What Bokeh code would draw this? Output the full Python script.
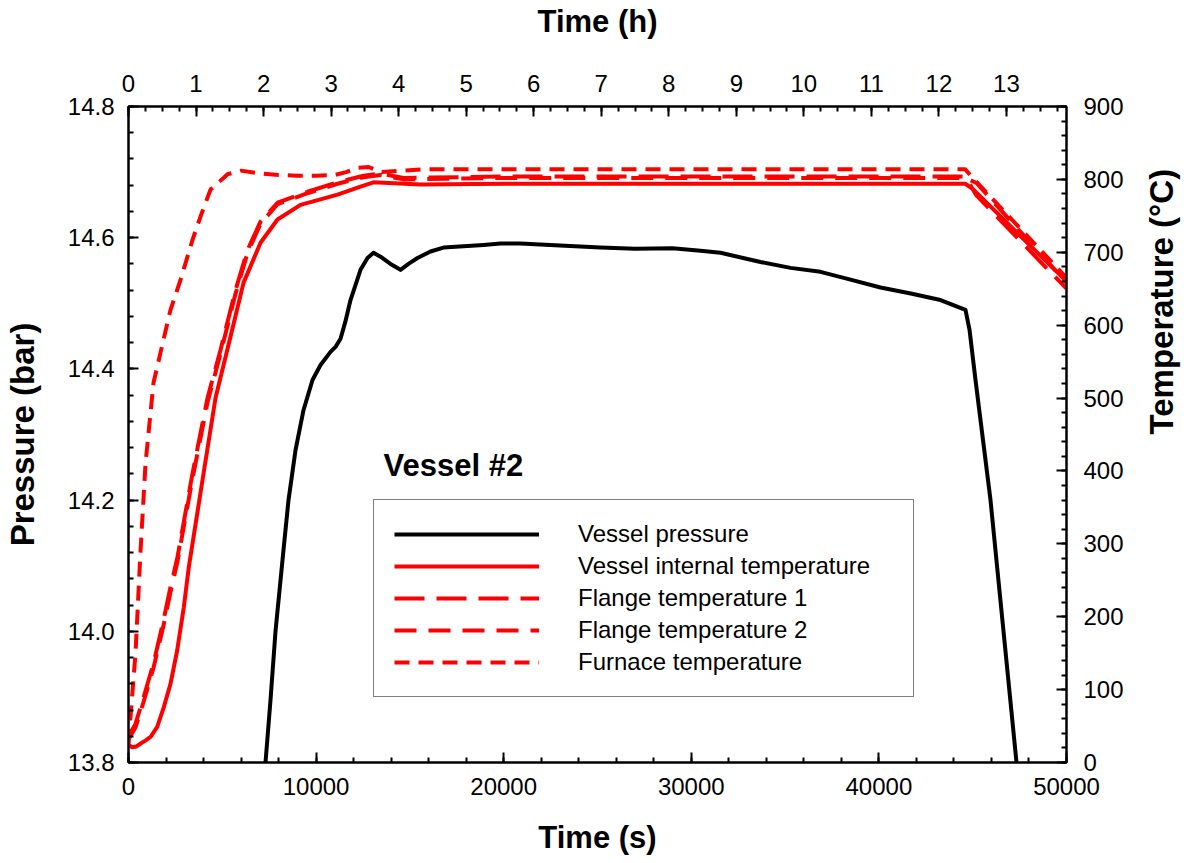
import math
from bokeh.plotting import figure
from bokeh.models import (Range1d, LinearAxis, SingleIntervalTicker, NumeralTickFormatter,
                          Legend, LegendItem, Label)
from bokeh.embed import file_html
from bokeh.resources import INLINE

# ---------------- data ----------------
pressure_t = [7150, 7303, 7569, 7836, 8262, 8529, 8902, 9328, 9808, 10235, 10768, 11050,
              11301, 11560, 11834, 12367, 12740, 13060, 13433, 13966, 14499, 14925, 15405,
              16098, 16791, 18923, 19829, 20896, 23000, 25160, 27000, 29000, 30490, 31557,
              33689, 35288, 36887, 38486, 40085, 41700, 43284, 44616, 44829, 45149, 45949,
              46642, 47335, 47450]
pressure_p = [13.77, 13.800, 13.895, 14.000, 14.124, 14.200, 14.276, 14.337, 14.383, 14.406,
              14.426, 14.434, 14.446, 14.472, 14.505, 14.551, 14.569, 14.577, 14.571, 14.560,
              14.551, 14.560, 14.569, 14.579, 14.585, 14.589, 14.591, 14.591, 14.588, 14.585,
              14.583, 14.584, 14.580, 14.577, 14.563, 14.554, 14.548, 14.536, 14.524, 14.515,
              14.505, 14.490, 14.460, 14.383, 14.200, 14.000, 13.800, 13.78]

internal_t = [0, 197, 420, 640, 900, 1173, 1529, 1882, 2239, 2596, 2948, 3214, 3838, 4638,
              5437, 6130, 7036, 7942, 9168, 11141, 12367, 13060, 15565, 20000, 30000, 40000,
              44600, 45000, 50000]
internal_T = [24, 21, 22, 26, 30, 35, 49, 76, 108, 154, 213, 268, 370, 500, 584, 658, 713,
              745, 765, 779, 790, 796, 793, 794, 794, 794, 794, 787, 660]

flange_t = [0, 373, 800, 1333, 1866, 2239, 2612, 3400, 4211, 4904, 5704, 6343, 7036, 7942,
            9542, 11141, 12527, 13433, 14659, 20000, 30000, 40000, 44600, 45200, 50000]
flange1_T = [36, 53, 89, 136, 195, 241, 282, 395, 500, 566, 648, 703, 742, 768, 783, 796,
             805, 808, 802, 804, 804, 804, 804, 778, 650]
flange2_T = [32, 48, 83, 130, 188, 234, 276, 388, 494, 561, 643, 699, 739, 766, 781, 794,
             803, 806, 800, 802, 802, 802, 802, 795, 658]

furnace_t = [0, 100, 373, 640, 906, 1333, 1866, 2239, 2772, 3412, 3838, 4371, 5064, 5277,
             6000, 7000, 8000, 9000, 10000, 11000, 11600, 12200, 12800, 13500, 14500, 16000,
             25000, 35000, 44600, 44900, 50000]
furnace_T = [25, 60, 150, 290, 410, 521, 580, 621, 662, 717, 749, 786, 802, 807, 812, 808,
             806, 805, 805, 806, 810, 816, 817, 810, 812, 814, 814, 814, 814, 805, 665]

legend_labels = ["Vessel pressure", "Vessel internal temperature", "Flange temperature 1",
                 "Flange temperature 2", "Furnace temperature"]

FONT = "Liberation Sans"
TICK_FS = "24px"

p = figure(frame_width=938, frame_height=656,
           x_range=Range1d(0, 50000), y_range=Range1d(13.8, 14.8),
           output_backend="svg", toolbar_location=None,
           min_border_left=4, min_border_right=4, min_border_top=4, min_border_bottom=4,
           background_fill_color="white", border_fill_color="white")
p.xgrid.visible = False
p.ygrid.visible = False
p.outline_line_color = "black"
p.outline_line_width = 2

p.extra_x_ranges = {"hours": Range1d(0, 50000 / 3600)}
p.extra_y_ranges = {"temp": Range1d(0, 900)}

def style(ax, label, label_fs, tick_standoff, label_standoff):
    ax.axis_label = label
    ax.axis_label_text_font = FONT
    ax.axis_label_text_font_size = label_fs
    ax.axis_label_text_font_style = "bold"
    ax.axis_label_text_color = "black"
    ax.major_label_text_font = FONT
    ax.major_label_text_font_size = TICK_FS
    ax.major_label_text_color = "black"
    ax.axis_line_color = "black"
    ax.axis_line_width = 2
    ax.major_tick_line_width = 2
    ax.minor_tick_line_width = 2
    ax.major_tick_in = 10
    ax.major_tick_out = 0
    ax.minor_tick_in = 5
    ax.minor_tick_out = 0
    ax.major_label_standoff = tick_standoff
    ax.axis_label_standoff = label_standoff

bx = p.xaxis[0]
bx.ticker = SingleIntervalTicker(interval=10000, num_minor_ticks=5)
bx.formatter = NumeralTickFormatter(format="0")
style(bx, "Time (s)", "31px", 15, 22)

ly = p.yaxis[0]
ly.ticker = SingleIntervalTicker(interval=0.2, num_minor_ticks=5)
ly.formatter = NumeralTickFormatter(format="0.0")
style(ly, "Pressure (bar)", "33px", 14, 24)

tx = LinearAxis(x_range_name="hours",
                ticker=SingleIntervalTicker(interval=1, num_minor_ticks=4))
style(tx, "Time (h)", "31px", 15, 33)
p.add_layout(tx, "above")

ry = LinearAxis(y_range_name="temp",
                ticker=SingleIntervalTicker(interval=100, num_minor_ticks=5))
style(ry, "Temperature (°C)", "33px", 17, 35)
try:
    ry.axis_label_orientation = math.pi / 2
except Exception:
    pass
p.add_layout(ry, "right")

RED = "#ff0000"
r_p = p.line(pressure_t, pressure_p, line_color="black", line_width=4, line_join="round")
r_i = p.line(internal_t, internal_T, line_color=RED, line_width=4, y_range_name="temp",
             line_join="round")
r_f1 = p.line(flange_t, flange1_T, line_color=RED, line_width=4, line_dash="30 12",
              y_range_name="temp")
r_f2 = p.line(flange_t, flange2_T, line_color=RED, line_width=4, line_dash="22 12",
              y_range_name="temp")
r_fu = p.line(furnace_t, furnace_T, line_color=RED, line_width=4, line_dash="15 9",
              y_range_name="temp")

legend = Legend(items=[LegendItem(label=l, renderers=[r]) for l, r in
                       zip(legend_labels, [r_p, r_i, r_f1, r_f2, r_fu])],
                location=(245, 65))
legend.border_line_color = "black"
legend.border_line_width = 1.5
legend.background_fill_alpha = 1
legend.label_text_font = FONT
legend.label_text_font_size = "24px"
legend.label_text_color = "black"
legend.glyph_width = 145
legend.glyph_height = 28
legend.label_height = 28
legend.label_standoff = 39
legend.label_width = 315
legend.spacing = 4
legend.padding = 20
legend.margin = 0
p.add_layout(legend, "center")

p.add_layout(Label(x=13593, y=14.252, text="Vessel #2", text_font=FONT,
                   text_font_size="31px", text_font_style="bold",
                   text_baseline="middle", text_color="black"))

open("out.html", "w").write(file_html(p, INLINE))
